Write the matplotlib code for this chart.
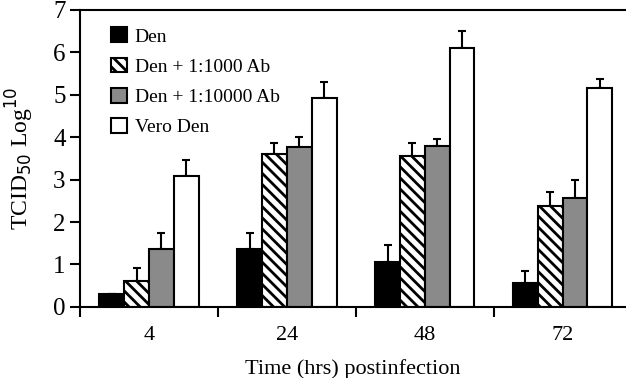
import numpy as np
import matplotlib
matplotlib.use("Agg")
import matplotlib.pyplot as plt

# values (log10 TCID50)
times = ["4", "24", "48", "72"]
series = ["Den", "Den + 1:1000 Ab", "Den + 1:10000 Ab", "Vero Den"]
den = [0.30, 1.37, 1.07, 0.57]
den_err = [0.0, 0.38, 0.40, 0.28]
ab1000 = [0.62, 3.60, 3.55, 2.38]
ab1000_err = [0.30, 0.27, 0.32, 0.32]
ab10000 = [1.37, 3.77, 3.80, 2.57]
ab10000_err = [0.38, 0.23, 0.15, 0.43]
vero = [3.08, 4.93, 6.10, 5.17]
vero_err = [0.39, 0.37, 0.40, 0.20]

plt.rcParams['font.family'] = ['Liberation Serif', 'DejaVu Serif']
plt.rcParams['hatch.linewidth'] = 2.0

fig = plt.figure(figsize=(6.26, 3.78), dpi=100)
ax = fig.add_axes([0.128, 0.188, 0.872, 0.786])

x = np.arange(len(times))
w = 0.18
values = [den, ab1000, ab10000, vero]
errors = [den_err, ab1000_err, ab10000_err, vero_err]
faces = ['black', 'white', '#8a8a8a', 'white']
hatches = [None, '\\\\\\', None, None]

for i, (vals, errs) in enumerate(zip(values, errors)):
    pos = x + (i - 1.5) * w
    ax.bar(pos, vals, width=w, color=faces[i], edgecolor='black',
           linewidth=1.5, hatch=hatches[i], label=series[i], zorder=2)
    ax.errorbar(pos, vals, yerr=[np.zeros(len(errs)), errs], fmt='none',
                ecolor='black', elinewidth=1.5, capsize=3, capthick=1.5,
                zorder=1)

ax.set_xlim(-0.5, 3.46)
ax.set_ylim(0, 7)
ax.set_yticks(range(8))
ax.set_xticks(x)
ax.set_xticklabels(times)
ax.set_xticks([-0.5, 0.5, 1.5, 2.5], minor=True)
ax.tick_params(axis='x', which='major', length=0, pad=14, labelsize=16)
ax.tick_params(axis='x', which='minor', length=7, width=1.5, direction='out')
ax.tick_params(axis='y', length=7, width=1.5, direction='out', labelsize=18)

ax.spines['right'].set_visible(False)
for s in ['left', 'bottom', 'top']:
    ax.spines[s].set_linewidth(1.5)

ax.set_ylabel('TCID$_{50}$ Log$^{10}$', fontsize=17, labelpad=12)
ax.set_xlabel('Time (hrs) postinfection', fontsize=16, labelpad=10)

ax.legend(loc='upper left', bbox_to_anchor=(0.025, 1.0), frameon=False,
          fontsize=14, handlelength=0.8, handleheight=0.8,
          handletextpad=0.4, labelspacing=0.62)

fig.savefig('out.png', dpi=100)
